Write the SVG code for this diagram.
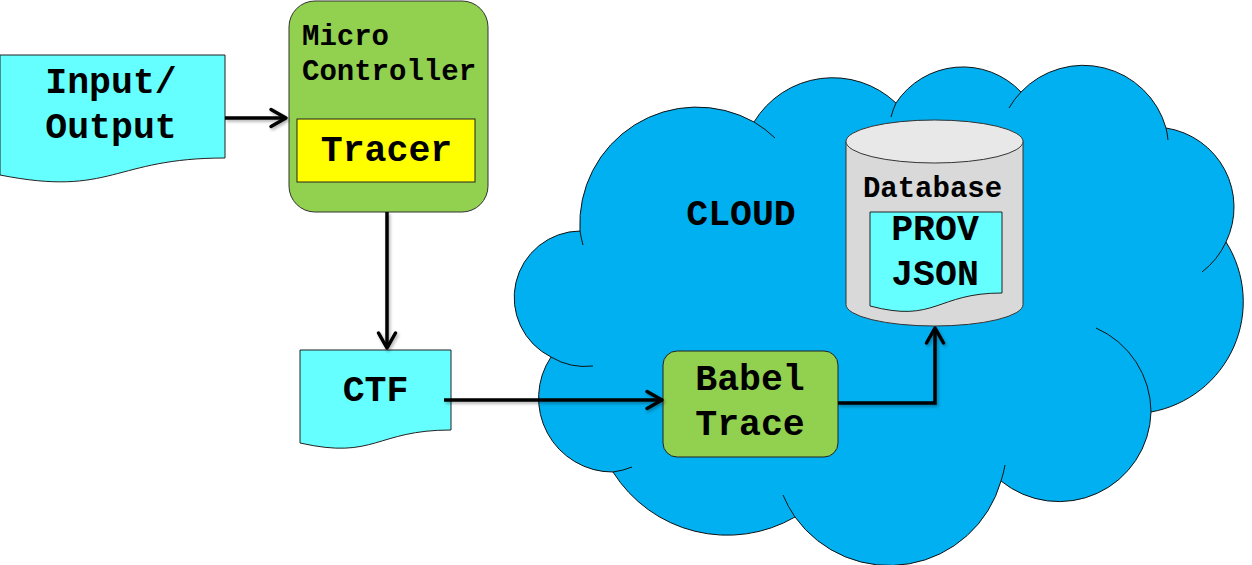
<svg xmlns="http://www.w3.org/2000/svg" width="1252" height="565" viewBox="0 0 1252 565">
<style>
.t{font-family:"Liberation Mono","Courier New",monospace;font-weight:bold;fill:#000}
.big{font-size:36.5px}
.mid{font-size:29px}
.doc{fill:#66FFFF;stroke:#222;stroke-width:1}
.conn{fill:none;stroke:#000;stroke-width:3.5;marker-end:url(#arr)}
.tail{fill:none;stroke:#111;stroke-width:1}
</style>
<defs>
<filter id="sh" filterUnits="userSpaceOnUse" x="0" y="0" width="1252" height="565">
<feDropShadow dx="1.5" dy="2" stdDeviation="1.5" flood-color="#000" flood-opacity="0.3"/>
</filter>
<marker id="arr" markerUnits="userSpaceOnUse" viewBox="-20 -12 24 24" refX="0" refY="0" markerWidth="24" markerHeight="24" orient="auto" overflow="visible">
<path d="M-15,-8.5 L0,0 L-15,8.5" fill="none" stroke="#000" stroke-width="3.5" stroke-linecap="round" stroke-linejoin="round"/>
</marker>
</defs>
<rect width="1252" height="565" fill="#fff"/>
<g id="cloud">
<path d="M551,357 A66.5,66.5 0 0 1 580,231 A117,117 0 0 1 754,122 A92,92 0 0 1 896,103 A80,80 0 0 1 1021,92 A86,86 0 0 1 1166,128 A80,80 0 0 1 1226,242 A112,112 0 0 1 1151,412 A92,92 0 0 1 1001,481 A116,116 0 0 1 795,517 A135,135 0 0 1 613,472 A74,74 0 0 1 551,357 Z" fill="#00B0F0" stroke="#111" stroke-width="1"/>
<path class="tail" d="M583,245 A117,117 0 0 1 580,231"/>
<path class="tail" d="M754,122 A117,117 0 0 1 775,138"/>
<path class="tail" d="M891,117 A80,80 0 0 1 896,103"/>
<path class="tail" d="M1009,108 A86,86 0 0 1 1021,92"/>
<path class="tail" d="M1166,128 A86,86 0 0 1 1168,140"/>
<path class="tail" d="M1226,242 A80,80 0 0 1 1202,272"/>
<path class="tail" d="M1096,328 A92,92 0 0 1 1151,412"/>
<path class="tail" d="M1005,465 A116,116 0 0 1 1001,481"/>
<path class="tail" d="M795,517 A116,116 0 0 1 783,495"/>
<path class="tail" d="M632,467 A74,74 0 0 1 613,472"/>
<path class="tail" d="M593,366 A66.5,66.5 0 0 1 551,357"/>
<text class="t big" x="741" y="225" text-anchor="middle">CLOUD</text>
</g>
<g id="io">
<path class="doc" d="M0,55 H225 V158 C112.5,158 112.5,197.3 0,175 Z"/>
<text class="t big" x="111" y="93" text-anchor="middle">Input/</text>
<text class="t big" x="111" y="138" text-anchor="middle">Output</text>
</g>
<g id="microcontroller">
<rect x="289" y="1" width="199" height="211" rx="26" ry="26" fill="#92D050" stroke="#333" stroke-width="1"/>
<text class="t mid" x="302" y="45">Micro</text>
<text class="t mid" x="302" y="80">Controller</text>
</g>
<g id="tracer">
<rect x="297" y="119" width="178" height="63" fill="#FFFF00" stroke="#222" stroke-width="1"/>
<text class="t big" x="386.5" y="161" text-anchor="middle">Tracer</text>
</g>
<g id="ctf">
<path class="doc" d="M300,350 H451 V430 C375.5,430 375.5,460 300,443 Z"/>
<text class="t big" x="375.5" y="401" text-anchor="middle">CTF</text>
</g>
<g id="babeltrace">
<rect x="663" y="351" width="175" height="106" rx="14" ry="14" fill="#92D050" stroke="#222" stroke-width="1"/>
<text class="t big" x="750" y="390" text-anchor="middle">Babel</text>
<text class="t big" x="750" y="435" text-anchor="middle">Trace</text>
</g>
<g id="database">
<path d="M846,141.5 V304.5 A88.5,21.5 0 0 0 1023,304.5 V141.5" fill="#D9D9D9" stroke="#333" stroke-width="1"/>
<ellipse cx="934.5" cy="141.5" rx="88.5" ry="21.5" fill="#E8E8E8" stroke="#333" stroke-width="1"/>
<text class="t mid" x="932.5" y="197" text-anchor="middle">Database</text>
<g id="provjson">
<path class="doc" d="M870,212 H1002 V293 C936,293 936,323.5 870,306 Z"/>
<text class="t big" x="935" y="240" text-anchor="middle">PROV</text>
<text class="t big" x="935" y="285" text-anchor="middle">JSON</text>
</g>
</g>
<g id="connectors" filter="url(#sh)">
<path class="conn" d="M225,118 H286"/>
<path class="conn" d="M387,212 V348"/>
<path class="conn" d="M444,400 H662"/>
<path class="conn" d="M838,403 H935 V328"/>
</g>
</svg>
